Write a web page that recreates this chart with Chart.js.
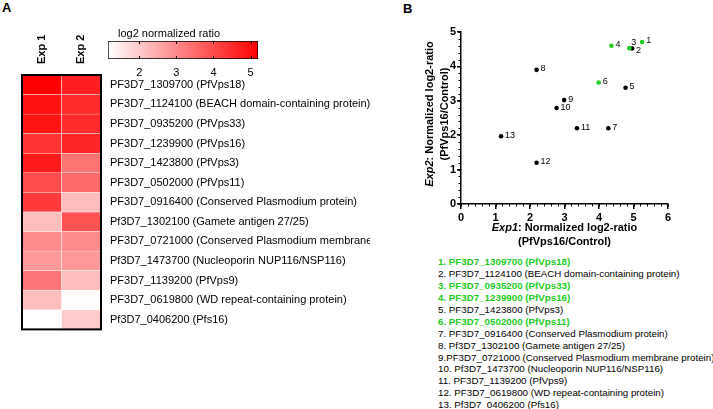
<!DOCTYPE html>
<html lang="en">
<head>
<meta charset="UTF-8" />
<title>PfVps16 interactors</title>
<script src="https://cdn.jsdelivr.net/npm/chart.js"></script>
<style>
  body { margin: 0; width: 713px; height: 409px; position: relative; overflow: hidden; background: #fff;
         font-family: "Liberation Sans", Arial, sans-serif; color: #000; }
  canvas { position: absolute; }
  #heat { left: 0; top: 0; }
  #cbar { left: 100px; top: 25px; }
  #scat { left: 370px; top: 0; }
  .panel { position: absolute; font-weight: bold; font-size: 13px; line-height: 13px; }
  #list { position: absolute; left: 438px; top: 256px; font-size: 9.75px; }
  #list div { height: 11.94px; line-height: 11.94px; white-space: nowrap; }
  #list .vps { color: #22cc22; font-weight: bold; }
</style>
</head>
<body>
<div class="panel" style="left:2px;top:1px">A</div>
<div class="panel" style="left:403px;top:2px">B</div>
<canvas id="heat" width="370" height="345"></canvas>
<canvas id="cbar" width="170" height="60"></canvas>
<canvas id="scat" width="343" height="255"></canvas>
<div id="list"></div>
<script>
  const genes = [
    "PF3D7_1309700 (PfVps18)",
    "PF3D7_1124100 (BEACH domain-containing protein)",
    "PF3D7_0935200 (PfVps33)",
    "PF3D7_1239900 (PfVps16)",
    "PF3D7_1423800 (PfVps3)",
    "PF3D7_0502000 (PfVps11)",
    "PF3D7_0916400 (Conserved Plasmodium protein)",
    "Pf3D7_1302100 (Gamete antigen 27/25)",
    "PF3D7_0721000 (Conserved Plasmodium membrane protein)",
    "Pf3D7_1473700 (Nucleoporin NUP116/NSP116)",
    "PF3D7_1139200 (PfVps9)",
    "PF3D7_0619800 (WD repeat-containing protein)",
    "Pf3D7_0406200 (Pfs16)",
  ];
  // log2 normalized ratio (PfVps16/Control)
  const exp1 = [5.25, 4.96, 4.88, 4.36, 4.77, 3.99, 4.27, 2.19, 2.99, 2.77, 3.36, 2.19, 1.16];
  const exp2 = [4.71, 4.52, 4.53, 4.60, 3.38, 3.53, 2.20, 3.90, 3.02, 2.79, 2.20, 1.20, 1.97];
  const vpsComplex = [true, false, true, true, false, true, false, false, false, false, false, false, false];
  const expLabels = ["Exp 1", "Exp 2"];
  const colorTicks = [2, 3, 4, 5];
  const colorMin = 1.16;
  const colorMax = 5.2;

  const FONT = '"Liberation Sans", Arial, sans-serif';
  const GREEN = "#22cc22";
  Chart.defaults.font.family = FONT;
  Chart.defaults.color = "#000";

  function heatColor(v) {
    const t = Math.min(1, Math.max(0, (v - colorMin) / (colorMax - colorMin)));
    const c = Math.round(255 * (1 - t));
    return `rgb(255, ${c}, ${c})`;
  }

  // black frame round the heatmap
  const frame = {
    id: "frame",
    afterDatasetsDraw(chart) {
      const a = chart.chartArea, ctx = chart.ctx;
      ctx.save();
      ctx.lineWidth = 2;
      ctx.strokeStyle = "#000";
      ctx.strokeRect(a.left, a.top, a.right - a.left, a.bottom - a.top);
      ctx.restore();
    },
  };

  new Chart(document.getElementById("heat"), {
    type: "bar",
    data: {
      labels: genes,
      datasets: [exp1, exp2].map((vals, k) => ({
        label: expLabels[k],
        data: vals.map(() => 1),
        backgroundColor: vals.map(heatColor),
        borderColor: "#fff",
        borderWidth: 0.5,
        borderSkipped: false,
        barPercentage: 1,
        categoryPercentage: 1,
      })),
    },
    options: {
      indexAxis: "y",
      responsive: false,
      animation: false,
      layout: { padding: { left: 22, bottom: 9 } },
      plugins: { legend: { display: false }, tooltip: { enabled: false } },
      scales: {
        x: {
          position: "top",
          stacked: true,
          min: 0,
          max: 2,
          afterBuildTicks: (s) => { s.ticks = [{ value: 0.5 }, { value: 1.5 }]; },
          afterFit: (s) => { s.height = 75; },
          ticks: {
            callback: (v) => expLabels[Math.floor(v)],
            minRotation: 90,
            maxRotation: 90,
            padding: 11,
            labelOffset: 13,
            font: { weight: "bold", size: 11 },
          },
          grid: { display: false, drawTicks: false },
          border: { display: false },
        },
        y: {
          position: "right",
          stacked: true,
          afterFit: (s) => { s.width = 269; },
          ticks: { autoSkip: false, padding: 9, font: { size: 11 } },
          grid: { display: false, drawTicks: false },
          border: { display: false },
        },
      },
    },
    plugins: [frame],
  });

  // colour scale: title and small inner ticks
  const cbarDeco = {
    id: "cbarDeco",
    afterDraw(chart) {
      const a = chart.chartArea, ctx = chart.ctx, sx = chart.scales.x;
      ctx.save();
      ctx.font = `11px ${FONT}`;
      ctx.fillStyle = "#000";
      ctx.textBaseline = "alphabetic";
      ctx.fillText("log2 normalized ratio", a.left + 10, a.top - 4);
      ctx.strokeStyle = "#000";
      ctx.lineWidth = 1;
      colorTicks.forEach((v) => {
        const x = Math.round(sx.getPixelForValue(v)) + 0.5;
        ctx.beginPath();
        ctx.moveTo(x, a.top); ctx.lineTo(x, a.top + 3);
        ctx.moveTo(x, a.bottom - 3); ctx.lineTo(x, a.bottom);
        ctx.stroke();
      });
      ctx.restore();
    },
  };

  new Chart(document.getElementById("cbar"), {
    type: "bar",
    data: {
      labels: [""],
      datasets: [{
        data: [[colorMin, colorMax]],
        backgroundColor: (c) => {
          const a = c.chart.chartArea;
          if (!a) return "#f00";
          const g = c.chart.ctx.createLinearGradient(a.left, 0, a.right, 0);
          g.addColorStop(0, "#fff");
          g.addColorStop(1, "#f00");
          return g;
        },
        borderColor: "#000",
        borderWidth: 1,
        borderSkipped: false,
        barPercentage: 1,
        categoryPercentage: 1,
      }],
    },
    options: {
      indexAxis: "y",
      responsive: false,
      animation: false,
      layout: { padding: { left: 8, right: 12, top: 16 } },
      plugins: { legend: { display: false }, tooltip: { enabled: false } },
      scales: {
        x: {
          min: colorMin,
          max: colorMax,
          afterBuildTicks: (s) => { s.ticks = colorTicks.map((v) => ({ value: v })); },
          afterFit: (s) => { s.height = 26; },
          ticks: { padding: 7, font: { size: 11 } },
          grid: { display: false, drawTicks: false },
          border: { display: false },
        },
        y: { display: false },
      },
    },
    plugins: [cbarDeco],
  });

  // minor ticks every 0.2 on the scatter axes
  const minorTicks = {
    id: "minorTicks",
    afterDraw(chart) {
      const ctx = chart.ctx, a = chart.chartArea;
      ctx.save();
      ctx.strokeStyle = "#000";
      ctx.lineWidth = 1;
      const sx = chart.scales.x, sy = chart.scales.y;
      for (let i = 0; i <= (sx.max - sx.min) * 5; i++) {
        const x = Math.round(sx.getPixelForValue(sx.min + i * 0.2)) + 0.5;
        ctx.beginPath(); ctx.moveTo(x, a.bottom); ctx.lineTo(x, a.bottom + 2.5); ctx.stroke();
      }
      for (let i = 0; i <= (sy.max - sy.min) * 5; i++) {
        const y = Math.round(sy.getPixelForValue(sy.min + i * 0.2)) + 0.5;
        ctx.beginPath(); ctx.moveTo(a.left, y); ctx.lineTo(a.left - 2.5, y); ctx.stroke();
      }
      ctx.restore();
    },
  };

  // point numbers next to the dots
  const pointNumbers = {
    id: "pointNumbers",
    afterDatasetsDraw(chart) {
      const ctx = chart.ctx;
      ctx.save();
      ctx.font = `9px ${FONT}`;
      ctx.fillStyle = "#000";
      ctx.textBaseline = "middle";
      chart.getDatasetMeta(0).data.forEach((pt, i) => {
        let dx = 4, dy = -1;
        if (i === 1) { dx = 4; dy = 2; }
        if (i === 2) { dx = 2; dy = -6; }
        ctx.fillText(String(i + 1), pt.x + dx, pt.y + dy);
      });
      ctx.restore();
    },
  };

  function richLine(ctx, parts, cx, y) {
    const fonts = parts.map((p) => `${p[1] ? "italic " : ""}bold 11px ${FONT}`);
    let w = 0;
    parts.forEach((p, i) => { ctx.font = fonts[i]; w += ctx.measureText(p[0]).width; });
    let x = cx - w / 2;
    parts.forEach((p, i) => {
      ctx.font = fonts[i];
      ctx.fillText(p[0], x, y);
      x += ctx.measureText(p[0]).width;
    });
  }

  const axisTitles = {
    id: "axisTitles",
    afterDraw(chart) {
      const ctx = chart.ctx, a = chart.chartArea;
      const cx = (a.left + a.right) / 2, cy = (a.top + a.bottom) / 2 - 4;
      ctx.save();
      ctx.fillStyle = "#000";
      ctx.textBaseline = "middle";
      richLine(ctx, [["Exp1", true], [": Normalized log2-ratio", false]], cx, a.bottom + 24);
      richLine(ctx, [["(PfVps16/Control)", false]], cx, a.bottom + 38);
      ctx.translate(a.left - 31, cy);
      ctx.rotate(-Math.PI / 2);
      richLine(ctx, [["Exp2", true], [": Normalized log2-ratio", false]], 0, 0);
      richLine(ctx, [["(PfVps16/Control)", false]], 0, 15);
      ctx.restore();
    },
  };

  new Chart(document.getElementById("scat"), {
    type: "scatter",
    data: {
      datasets: [{
        data: exp1.map((x, i) => ({ x, y: exp2[i] })),
        pointBackgroundColor: vpsComplex.map((g) => (g ? GREEN : "#000")),
        pointBorderWidth: 0,
        pointRadius: 2.3,
      }],
    },
    options: {
      responsive: false,
      animation: false,
      layout: { padding: { top: 32, right: 45 } },
      plugins: { legend: { display: false }, tooltip: { enabled: false } },
      scales: {
        x: {
          min: 0,
          max: 6,
          afterFit: (s) => { s.height = 51; },
          ticks: { stepSize: 1, padding: 2, font: { weight: "bold", size: 11 } },
          grid: { drawOnChartArea: false, tickLength: 5, color: "#000", lineWidth: 1.5 },
          border: { color: "#000", width: 1.5 },
        },
        y: {
          min: 0,
          max: 5,
          afterFit: (s) => { s.width = 91; },
          ticks: { stepSize: 1, padding: 1, font: { weight: "bold", size: 11 } },
          grid: { drawOnChartArea: false, tickLength: 4, color: "#000", lineWidth: 1.5 },
          border: { color: "#000", width: 1.5 },
        },
      },
    },
    plugins: [minorTicks, pointNumbers, axisTitles],
  });

  const list = document.getElementById("list");
  genes.forEach((g, i) => {
    const d = document.createElement("div");
    d.textContent = `${i + 1}.${i === 8 ? "" : " "}${g}`;
    if (vpsComplex[i]) d.className = "vps";
    list.appendChild(d);
  });
</script>
</body>
</html>
